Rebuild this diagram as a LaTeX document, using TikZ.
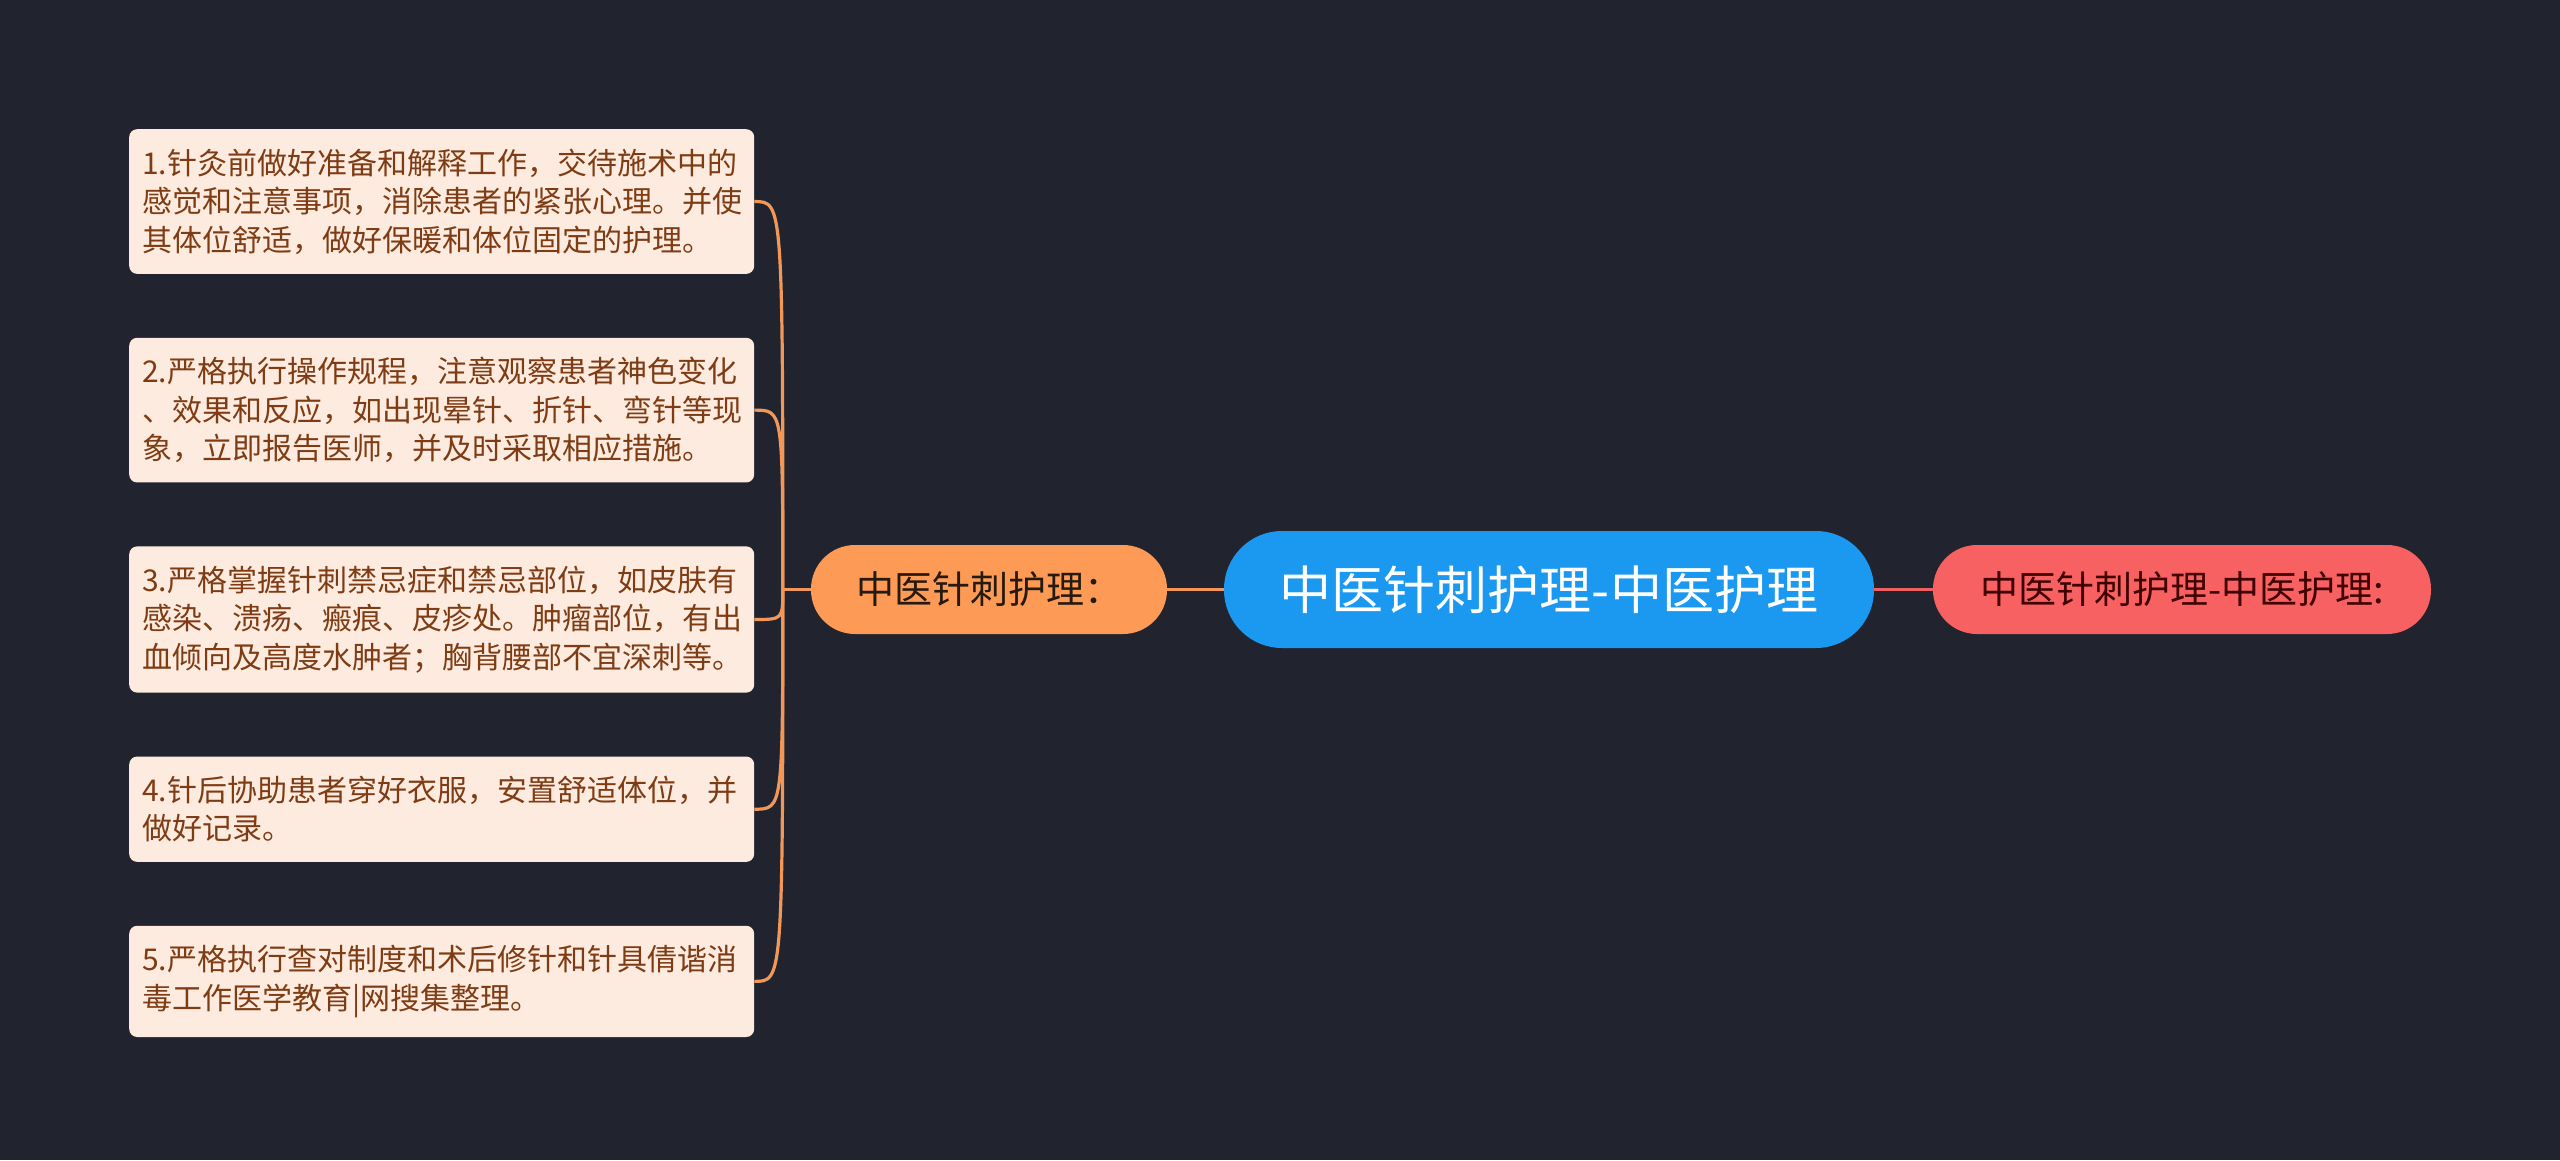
\documentclass[tikz,border=0pt]{standalone}
\usepackage{fontspec}
\setmainfont{Noto Sans CJK SC}
\usetikzlibrary{positioning}

\definecolor{bgnavy}{HTML}{21242F}
\definecolor{leaffill}{HTML}{FEEBDF}
\definecolor{leaftext}{HTML}{7E3C14}
\definecolor{orangenode}{HTML}{FD9A56}
\definecolor{orangeline}{HTML}{F2975A}
\definecolor{bluenode}{HTML}{1B98EF}
\definecolor{rednode}{HTML}{F86161}
\definecolor{redline}{HTML}{EE5F60}

\begin{document}
\begin{tikzpicture}[x=1pt,y=-1pt,
    leaf/.style={fill=leaffill,text=leaftext,rounded corners=8pt,
                 inner xsep=13pt,inner ysep=19.5pt,text width=599pt,align=left,
                 font=\fontsize{30}{38.5}\selectfont},
    topic/.style={fill=orangenode,text=black!80!brown,rounded corners=44pt,
                  minimum width=356pt,minimum height=89pt,inner sep=0pt,
                  font=\fontsize{38}{42}\selectfont},
    root/.style={fill=bluenode,text=white,rounded corners=58pt,
                 minimum width=650pt,minimum height=117pt,inner sep=0pt,
                 font=\fontsize{52}{58}\selectfont},
    side/.style={fill=rednode,text=black!75!red,rounded corners=44pt,
                 minimum width=498pt,minimum height=89pt,inner sep=0pt,
                 font=\fontsize{38}{42}\selectfont},
    branch/.style={draw=orangeline,line width=3.2pt},
    node distance=63.5pt]

  % background
  \fill[bgnavy] (0,0) rectangle (2560,1160);
  \useasboundingbox (0,0) rectangle (2560,1160);

  \node[root] (main) at (1549,589.5) {中医针刺护理-中医护理};
  \node[topic] (care) at (989,589.5) {中医针刺护理：};
  \node[side] (note) at (2182,589.5) {中医针刺护理-中医护理:};

  \node[leaf,anchor=north west] (l1) at (129,129)
    {1.针灸前做好准备和解释工作，交待施术中的\\感觉和注意事项，消除患者的紧张心理。并使\\其体位舒适，做好保暖和体位固定的护理。};
  \node[leaf,below=of l1.south west,anchor=north west] (l2)
    {2.严格执行操作规程，注意观察患者神色变化\\、效果和反应，如出现晕针、折针、弯针等现\\象，立即报告医师，并及时采取相应措施。};
  \node[leaf,below=of l2.south west,anchor=north west] (l3)
    {3.严格掌握针刺禁忌症和禁忌部位，如皮肤有\\感染、溃疡、瘢痕、皮疹处。肿瘤部位，有出\\血倾向及高度水肿者；胸背腰部不宜深刺等。};
  \node[leaf,below=of l3.south west,anchor=north west] (l4)
    {4.针后协助患者穿好衣服，安置舒适体位，并\\做好记录。};
  \node[leaf,below=of l4.south west,anchor=north west] (l5)
    {5.严格执行查对制度和术后修针和针具倩谐消\\毒工作医学教育|网搜集整理。};

  \coordinate (hub) at ([xshift=-28pt]care.west);

  % connectors
  \draw[branch] (care.east) -- (main.west);
  \draw[draw=redline,line width=3.2pt] (main.east) -- (note.west);
  \draw[branch] (care.west) -- (hub);
  \foreach \n in {l1,l2,l3,l4,l5}
    \draw[branch] (hub) .. controls (hub |- \n.east) .. (\n.east);

\end{tikzpicture}
\end{document}
